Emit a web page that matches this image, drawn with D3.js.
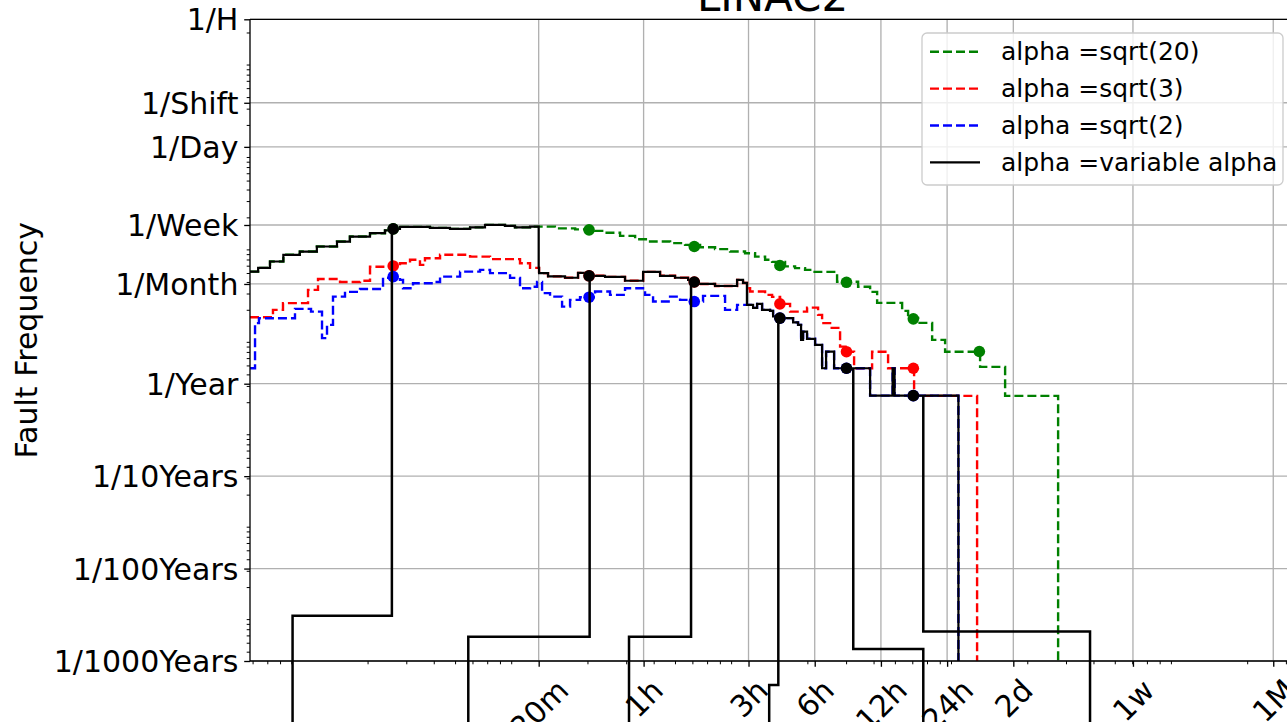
<!DOCTYPE html>
<html>
<head>
<meta charset="utf-8">
<script src="https://cdn.jsdelivr.net/npm/d3@7"></script>
<style>
  body { margin: 0; background: #fff; }
  text { font-family: "DejaVu Sans", sans-serif; }
</style>
</head>
<body>
<svg id="chart" width="1287" height="722"></svg>
<script>
// durations are in minutes, frequencies in faults per year
const SEC_PER_YEAR = 8760 * 3600;
const RATE_FLOOR = 1e-7; // stands in for 0 on the log axis

const greenMinutes = [0.973, 1.06, 1.20, 1.38, 1.64, 1.96, 2.42, 2.77, 3.42, 4.00, 4.35, 4.68, 6.41, 7.90, 9.75, 11.4, 14.06, 15.6, 18.27, 23.7, 29.3, 36.1, 40.1, 46.9, 54.9, 64.2, 79.2, 92.6, 108.4, 126.8, 148.4, 173.6, 192.8, 214.1, 230.4, 263.9, 293.1, 325.4, 350.2, 455, 567, 643, 692, 899, 957, 1063, 1231, 1410, 2034, 2643, 4604];
const greenRate = [16.3, 17.9, 21.0, 24.8, 26.9, 30.5, 34.5, 39.1, 42.5, 45.6, 47.3, 49.8, 48.5, 47.3, 49.1, 52.3, 51.0, 49.1, 50.1, 47.9, 46.8, 45.0, 42.9, 39.8, 36.6, 34.5, 33.2, 31.8, 29.9, 28.6, 26.9, 25.8, 23.7, 21.9, 20.8, 18.6, 17.8, 17.05, 16.2, 12.7, 11.2, 9.86, 7.49, 6.14, 5.15, 4.55, 2.98, 2.22, 1.52, 0.738, 0];

const redMinutes = [0.973, 1.238, 1.375, 1.787, 1.984, 2.498, 3.08, 3.42, 4.68, 5.20, 5.77, 6.08, 7.12, 9.75, 12.02, 16.45, 18.27, 20.08, 22.06, 26.36, 30.2, 34.98, 40.07, 49.4, 59.7, 71.3, 83.4, 95.6, 105.0, 126.8, 159.7, 170.0, 177.3, 182.95, 214.1, 230.4, 250.5, 278.1, 332.3, 372.9, 388.9, 422.9, 469.5, 505.2, 543.7, 656.5, 776.1, 1019, 1971];
const redRate = [5.24, 6.29, 7.44, 10.36, 13.6, 12.6, 13.0, 18.4, 20.1, 21.9, 19.3, 22.8, 24.8, 23.7, 22.3, 20.1, 17.9, 15.7, 14.5, 14.0, 15.8, 14.7, 14.3, 13.0, 16.2, 14.7, 14.0, 13.3, 12.0, 11.4, 13.3, 12.3, 10.8, 9.93, 9.14, 8.70, 7.31, 6.03, 6.66, 5.55, 4.52, 4.02, 2.52, 2.22, 1.47, 2.22, 1.47, 0.738, 0];

const blueMinutes = [0.973, 1.026, 1.069, 1.559, 1.844, 2.069, 2.18, 2.321, 2.632, 3.08, 3.919, 4.68, 4.832, 5.365, 6.616, 7.12, 8.78, 10.82, 12.02, 14.82, 16.45, 18.27, 19.66, 20.72, 22.53, 25.55, 27.78, 30.84, 36.09, 42.23, 49.4, 60.92, 66.25, 79.16, 87.9, 97.6, 111.8, 140.8, 159.7, 177.3, 188.8, 196.9, 207.5, 225.6, 232.8, 250.5, 287.0, 302.4, 312.1, 318.7, 332.3, 361.4, 388.9, 405.5, 441, 642.9, 813.7, 830.9, 1621];
const blueRate = [1.47, 4.52, 5.11, 6.45, 6.03, 3.11, 4.33, 8.76, 9.86, 10.6, 13.97, 13.29, 10.8, 12.2, 12.6, 14.4, 16.3, 17.05, 15.7, 13.97, 10.8, 11.2, 12.6, 9.54, 8.76, 6.83, 8.07, 8.63, 9.93, 9.14, 10.8, 9.14, 7.74, 8.76, 8.07, 7.74, 8.92, 6.29, 7.13, 7.13, 6.61, 7.31, 6.29, 6.14, 5.35, 5.12, 4.61, 4.33, 2.98, 3.66, 3.06, 2.63, 1.47, 2.22, 1.47, 0.743, 1.47, 0.743, 0];

// variable alpha switches curve at these durations (sqrt(20) -> sqrt(3) -> sqrt(2))
const switchMinutes = [20, 177];

const markerMinutes = [4.36, 33.9, 102, 250, 502, 1011, 2018];
const greenMarks = [47.3, 46.2, 30.5, 19.0, 12.5, 5.03, 2.23];
const redMarks = [18.8, 14.7, 12.6, 7.30, 2.22, 1.47];
const blueMarks = [14.4, 8.63, 7.74, 5.12, 1.47, 0.743];
const blackMarks = [47.3, 14.7, 12.6, 5.12, 1.47, 0.743];

const bracketTopMinutes = [4.30, 34.1, 98.6, 245.9, 539, 1122];
const bracketLowRate = [0.00309, 0.00183, 0.00183, 0.00055, 0.00135, 0.00208];
const bracketOtherMinutes = [1.52, 9.57, 51.5, 223.5, 1122, 6431];

const xTickMinutes = [20, 60, 180, 360, 720, 1440, 2880, 10080, 43800];
const xTickLabels = ["20m", "1h", "3h", "6h", "12h", "24h", "2d", "1w", "1M"];
const yTickHours = [1, 8, 24, 168, 730, 8760, 87600, 876000, 8760000];
const yTickLabels = ["1/H", "1/Shift", "1/Day", "1/Week", "1/Month", "1/Year", "1/10Years", "1/100Years", "1/1000Years"];

const seriesNames = ["alpha =sqrt(20)", "alpha =sqrt(3)", "alpha =sqrt(2)", "alpha =variable alpha"];
const seriesColors = ["#008000", "#ff0000", "#0000ff", "#000000"];

// ---- layout
const pLeft = 250, pRight = 1295, pTop = 19.3, pBottom = 661;
const svg = d3.select("#chart");

const x = d3.scaleLog().domain([58.4, 3.3e6]).range([pLeft, pRight]);
const y = d3.scaleLog().domain([1 / (3600 * 8760000), 1 / 3600]).range([pBottom, pTop]);

const px = m => x(m * 60);
const py = r => y(Math.max(r, RATE_FLOOR) / SEC_PER_YEAR);

const zip = (a, b) => a.map((v, i) => [v, b[i]]);
const green = zip(greenMinutes, greenRate);
const red = zip(redMinutes, redRate);
const blue = zip(blueMinutes, blueRate);

function stepValue(pts, t) {
    let v = pts[0][1];
    pts.forEach(p => { if (p[0] <= t) v = p[1]; });
    return v;
}

// black curve built from the three fixed-alpha curves
const variable = [];
green.filter(p => p[0] < switchMinutes[0]).forEach(p => variable.push(p));
variable.push([switchMinutes[0], stepValue(red, switchMinutes[0])]);
red.filter(p => p[0] > switchMinutes[0] && p[0] < switchMinutes[1]).forEach(p => variable.push(p));
variable.push([switchMinutes[1], stepValue(blue, switchMinutes[1])]);
blue.filter(p => p[0] > switchMinutes[1]).forEach(p => variable.push(p));

// clip
svg.append("defs").append("clipPath").attr("id", "plot-clip")
    .append("rect").attr("x", pLeft).attr("y", pTop)
    .attr("width", pRight - pLeft).attr("height", pBottom - pTop);

// grid
const grid = svg.append("g").attr("stroke", "#b0b0b0").attr("stroke-width", 1.33);
grid.selectAll("line.gx").data(xTickMinutes).enter().append("line")
    .attr("x1", d => px(d)).attr("x2", d => px(d))
    .attr("y1", pTop).attr("y2", pBottom);
grid.selectAll("line.gy").data(yTickHours).enter().append("line")
    .attr("x1", pLeft).attr("x2", pRight)
    .attr("y1", d => y(1 / (d * 3600))).attr("y2", d => y(1 / (d * 3600)));

// curves
const stepLine = d3.line().x(d => px(d[0])).y(d => py(d[1])).curve(d3.curveStepAfter);
const curves = svg.append("g").attr("clip-path", "url(#plot-clip)").attr("fill", "none");
[green, red, blue, variable].forEach((pts, i) => {
    curves.append("path")
        .attr("d", stepLine(pts))
        .attr("stroke", seriesColors[i])
        .attr("stroke-width", i === 3 ? 2.2 : 2.4)
        .attr("stroke-dasharray", i === 3 ? null : "9,4");
});

// markers
[greenMarks, redMarks, blueMarks, blackMarks].forEach((marks, i) => {
    svg.append("g").selectAll("circle")
        .data(marks).enter().append("circle")
        .attr("cx", (d, j) => px(markerMinutes[j]))
        .attr("cy", d => py(d))
        .attr("r", 5.8)
        .attr("fill", seriesColors[i]);
});

// interval lines from the variable alpha points, drawn past the axes
const bracketLine = d3.line().x(d => px(d[0])).y(d => py(d[1]));
svg.append("g").selectAll("path")
    .data(bracketTopMinutes).enter().append("path")
    .attr("d", (d, i) => bracketLine([
        [d, blackMarks[i]],
        [d, bracketLowRate[i]],
        [bracketOtherMinutes[i], bracketLowRate[i]],
        [bracketOtherMinutes[i], 0]
    ]))
    .attr("fill", "none").attr("stroke", "#000").attr("stroke-width", 2.5);

// axes
const xMinor = [];
const yMinor = [];
for (let e = 1; e <= 6; e++) for (let k = 2; k <= 9; k++) {
    const v = k * Math.pow(10, e);
    if (v >= x.domain()[0] && v <= x.domain()[1]) xMinor.push(v);
}
for (let e = -11; e <= -4; e++) for (let k = 2; k <= 9; k++) {
    const v = k * Math.pow(10, e);
    if (v >= y.domain()[0] && v <= y.domain()[1]) yMinor.push(v);
}

const gxMinor = svg.append("g").attr("transform", `translate(0,${pBottom})`)
    .call(d3.axisBottom(x).tickValues(xMinor).tickFormat("").tickSize(3.3).tickSizeOuter(0));
gxMinor.select(".domain").remove();
gxMinor.selectAll("line").attr("stroke-width", 1);

const gyMinor = svg.append("g").attr("transform", `translate(${pLeft},0)`)
    .call(d3.axisLeft(y).tickValues(yMinor).tickFormat("").tickSize(3.3).tickSizeOuter(0));
gyMinor.select(".domain").remove();
gyMinor.selectAll("line").attr("stroke-width", 1);

const gx = svg.append("g").attr("transform", `translate(0,${pBottom})`)
    .call(d3.axisBottom(x).tickValues(xTickMinutes.map(m => m * 60))
        .tickFormat((d, i) => xTickLabels[i]).tickSize(5.8).tickPadding(5.8).tickSizeOuter(0));
gx.select(".domain").remove();
gx.attr("font-size", 30).attr("font-family", "DejaVu Sans");
gx.selectAll("line").attr("stroke-width", 1.33);
gx.selectAll("text").each(function () {
    const t = d3.select(this);
    const w = this.getComputedTextLength();
    const h = 30 * 1.164;
    const cy = 11.6 + (w + h) * 0.3536;
    t.attr("y", null).attr("dy", "0.346em")
        .attr("text-anchor", "middle")
        .attr("transform", `translate(0,${cy}) rotate(-45)`);
});

const gy = svg.append("g").attr("transform", `translate(${pLeft},0)`)
    .call(d3.axisLeft(y).tickValues(yTickHours.map(h => 1 / (h * 3600)))
        .tickFormat((d, i) => yTickLabels[i]).tickSize(5.8).tickPadding(5.8).tickSizeOuter(0));
gy.select(".domain").remove();
gy.attr("font-size", 30).attr("font-family", "DejaVu Sans");
gy.selectAll("line").attr("stroke-width", 1.33);
gy.selectAll("text").attr("dy", "0.35em");

// spines
const spines = svg.append("g").attr("stroke", "#000").attr("stroke-width", 1.33);
spines.append("line").attr("x1", pLeft).attr("x2", pLeft).attr("y1", pTop).attr("y2", pBottom);
spines.append("line").attr("x1", pRight).attr("x2", pRight).attr("y1", pTop).attr("y2", pBottom);
spines.append("line").attr("x1", pLeft).attr("x2", pRight).attr("y1", pTop).attr("y2", pTop);
spines.append("line").attr("x1", pLeft).attr("x2", pRight).attr("y1", pBottom).attr("y2", pBottom);

// title and y label
svg.append("text").attr("x", (pLeft + pRight) / 2).attr("y", 11)
    .attr("text-anchor", "middle").attr("font-size", 42).text("LINAC2");
svg.append("text")
    .attr("transform", `translate(37,${(pTop + pBottom) / 2}) rotate(-90)`)
    .attr("text-anchor", "middle").attr("font-size", 30).text("Fault Frequency");

// legend
const legend = svg.append("g");
legend.append("rect").attr("x", 922).attr("y", 33).attr("width", 361).attr("height", 152)
    .attr("rx", 5).attr("fill", "#fff").attr("fill-opacity", 0.8)
    .attr("stroke", "#cccccc").attr("stroke-width", 1.3);
seriesNames.forEach((name, i) => {
    const ly = 51.7 + i * 36.9;
    legend.append("line").attr("x1", 930).attr("x2", 980).attr("y1", ly).attr("y2", ly)
        .attr("stroke", seriesColors[i]).attr("stroke-width", 2.4)
        .attr("stroke-dasharray", i === 3 ? null : "9,4");
    legend.append("text").attr("x", 1001).attr("y", ly).attr("dy", "0.35em")
        .attr("font-size", 25).text(name);
});
</script>
</body>
</html>
